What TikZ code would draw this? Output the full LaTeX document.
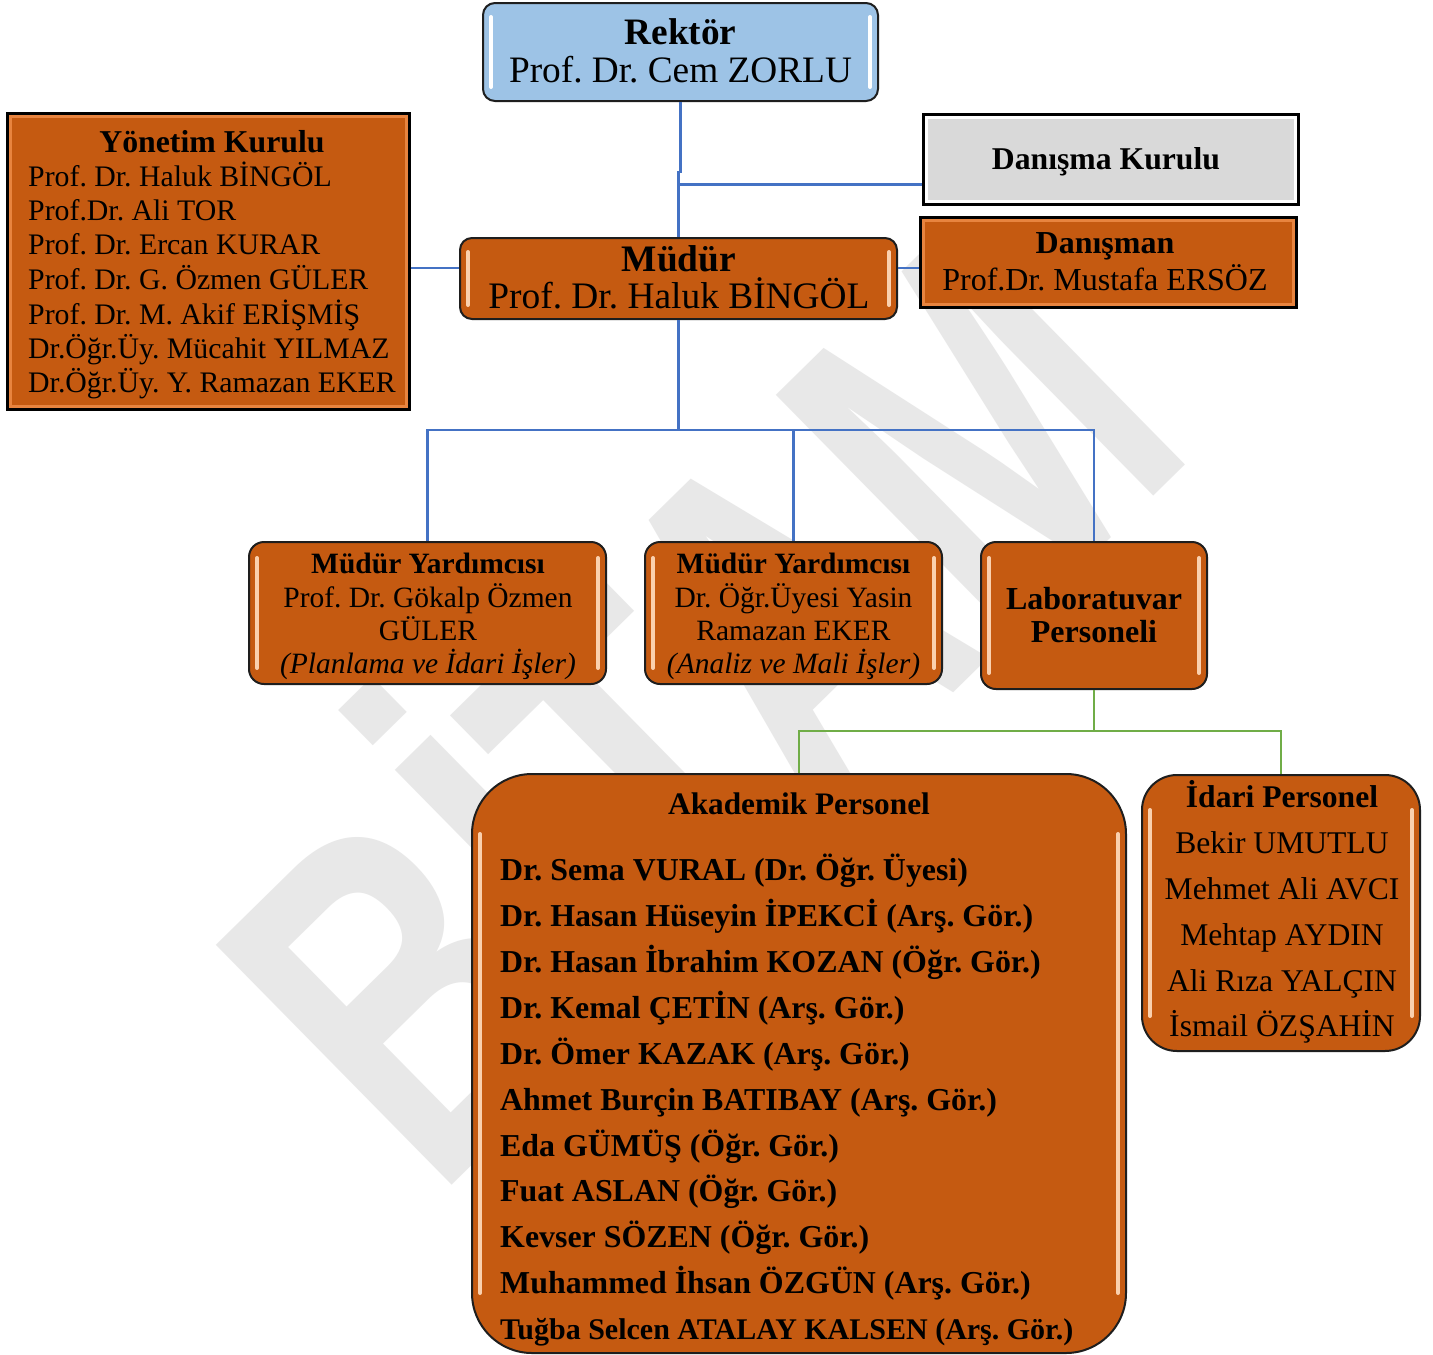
\documentclass[tikz,border=0pt]{standalone}
\usepackage{fontspec}
\setmainfont{Liberation Serif}
\newfontfamily\wmfont{Liberation Sans}
\definecolor{boxorange}{HTML}{C55A11}
\definecolor{boxblue}{HTML}{9DC3E6}
\definecolor{boxgray}{HTML}{D9D9D9}
\definecolor{lineblue}{HTML}{4472C4}
\definecolor{linegreen}{HTML}{70AD47}
\definecolor{wmgray}{HTML}{E8E8E8}
\definecolor{glossorange}{HTML}{FAD0AE}
\definecolor{bevelorange}{HTML}{E8843F}
\definecolor{edgedark}{HTML}{1E1E1E}
\newcommand\setfs[2]{\fontsize{#1}{#2}\selectfont}
\frenchspacing
\begin{document}
\begin{tikzpicture}[x=1pt, y=-1pt,
  roundbox/.style={draw=edgedark, line width=2pt, inner sep=0pt},
  squarebox/.style={draw=black, line width=3pt, inner sep=0pt},
  gloss/.style 2 args={path picture={
    \draw[line width=4pt, line cap=round, #1]
      ([xshift=8pt,yshift=-#2pt]path picture bounding box.north west) --
      ([xshift=8pt,yshift=#2pt]path picture bounding box.south west);
    \draw[line width=4pt, line cap=round, #1]
      ([xshift=-8pt,yshift=-#2pt]path picture bounding box.north east) --
      ([xshift=-8pt,yshift=#2pt]path picture bounding box.south east);}},
  bevel/.style={path picture={\draw[line width=9pt, #1]
      (path picture bounding box.north west) rectangle (path picture bounding box.south east);}},
  txt/.style={inner sep=0pt, text=black},
  blueline/.style={draw=lineblue, line width=2.5pt},
  greenline/.style={draw=linegreen, line width=2.5pt}]
\useasboundingbox (0,0) rectangle (1433,1355);
\fill[white] (0,0) rectangle (1433,1355);

% watermark
\begin{scope}[shift={(435,1202)}]
  \node[cm={0.507,0.498,-0.701,0.713,(0,0)}, transform shape, anchor=base west, inner sep=0pt,
        text=wmgray, font=\wmfont\bfseries\fontsize{489}{489}\selectfont] (wm) at (0,0) {BİTAM};
\end{scope}

% helper levels
\coordinate (yDK) at (0,184.5);
\coordinate (ySide) at (0,268);
\coordinate (yBus) at (0,430);
\coordinate (yGreen) at (0,731);

% boxes (shapes)
\node[roundbox, rounded corners=12pt, fill=boxblue, gloss={white}{14}, minimum width=395pt, minimum height=98pt] (rek) at (680.5,52) {};
\node[squarebox, fill=boxorange, bevel=bevelorange, minimum width=402pt, minimum height=296pt] (yk) at (208,261) {};
\node[squarebox, fill=boxgray, bevel=white, minimum width=375pt, minimum height=90pt] (dk) at (1110.5,159) {};
\node[roundbox, rounded corners=12pt, fill=boxorange, gloss={glossorange}{14}, minimum width=437pt, minimum height=81pt] (mud) at (678.5,278.5) {};
\node[squarebox, fill=boxorange, bevel=bevelorange, minimum width=376pt, minimum height=90pt] (dan) at (1108,262) {};
\node[roundbox, rounded corners=15pt, fill=boxorange, gloss={glossorange}{16}, minimum width=357pt, minimum height=142pt] (my1) at (427.5,613) {};
\node[roundbox, rounded corners=15pt, fill=boxorange, gloss={glossorange}{16}, minimum width=297pt, minimum height=142pt] (my2) at (793.5,613) {};
\node[roundbox, rounded corners=15pt, fill=boxorange, gloss={glossorange}{16}, minimum width=226pt, minimum height=147pt] (lab) at (1094,615.5) {};
\node[roundbox, rounded corners=60pt, fill=boxorange, gloss={glossorange}{60}, minimum width=654pt, minimum height=579pt] (ak) at (799,1063.5) {};
\node[roundbox, rounded corners=35pt, fill=boxorange, gloss={glossorange}{35}, minimum width=278pt, minimum height=276pt] (id) at (1281,913) {};

% connectors
\draw[blueline] (rek.south) -- ++(0,70) -| (mud.north);
\draw[blueline] (mud.north |- yDK) -- (dk.west |- yDK);
\draw[blueline] (yk.east |- ySide) -- (mud.west |- ySide);
\draw[blueline] (mud.east |- ySide) -- (dan.west |- ySide);
\draw[blueline] (mud.south) -- (mud.south |- yBus);
\draw[blueline] (my1.north) -- (my1.north |- yBus) -- (lab.north |- yBus) -- (lab.north);
\draw[blueline] (my2.north) -- (my2.north |- yBus);
\draw[greenline] (lab.south) -- (lab.south |- yGreen);
\draw[greenline] (ak.north) -- (ak.north |- yGreen) -- (id.north |- yGreen) -- (id.north);

% texts
\node[txt, align=center, font=\setfs{37.3}{38}] (rekt) at (680.5,50.6) {\textbf{Rektör}\\Prof. Dr. Cem ZORLU};
\node[txt, anchor=west, font=\setfs{29.8}{34}] (ykt) at (28,265.6) {\begin{tabular}{@{}l@{}}\multicolumn{1}{@{}c@{}}{\setfs{31.8}{34}\bfseries Yönetim Kurulu}\\
Prof. Dr. Haluk BİNGÖL\\
Prof.Dr. Ali TOR\\
Prof. Dr. Ercan KURAR\\
Prof. Dr. G. Özmen GÜLER\\
Prof. Dr. M. Akif ERİŞMİŞ\\
Dr.Öğr.Üy. Mücahit YILMAZ\\
Dr.Öğr.Üy. Y. Ramazan EKER\end{tabular}};
\node[txt, font=\setfs{31.7}{36}\bfseries] (dkt) at (1106,162) {Danışma Kurulu};
\node[txt, align=center, font=\setfs{37.4}{37}] (mudt) at (679,277) {\textbf{Müdür}\\Prof. Dr. Haluk BİNGÖL};
\node[txt, align=center, font=\setfs{32}{37}] (dant) at (1105,262.2) {\textbf{Danışman}\\Prof.Dr. Mustafa ERSÖZ};
\node[txt, align=center, font=\setfs{29.5}{33.3}] (my1t) at (428,616.8) {\textbf{Müdür Yardımcısı}\\Prof. Dr. Gökalp Özmen\\GÜLER\\\textit{(Planlama ve İdari İşler)}};
\node[txt, align=center, font=\setfs{29.5}{33.3}] (my2t) at (793.5,616.8) {\textbf{Müdür Yardımcısı}\\Dr. Öğr.Üyesi Yasin\\Ramazan EKER\\\textit{(Analiz ve Mali İşler)}};
\node[txt, align=center, font=\setfs{32}{33}\bfseries] (labt) at (1094,615.3) {Laboratuvar\\Personeli};
\node[txt, font=\setfs{31.3}{36}\bfseries] (akh) at (799,803.8) {Akademik Personel};
\node[txt, align=left, anchor=west, font=\setfs{31.9}{45.9}\bfseries] (akl) at (500,1100.2) {Dr. Sema VURAL (Dr. Öğr. Üyesi)\\
Dr. Hasan Hüseyin İPEKCİ (Arş. Gör.)\\
Dr. Hasan İbrahim KOZAN (Öğr. Gör.)\\
Dr. Kemal ÇETİN (Arş. Gör.)\\
Dr. Ömer KAZAK (Arş. Gör.)\\
Ahmet Burçin BATIBAY (Arş. Gör.)\\
Eda GÜMÜŞ (Öğr. Gör.)\\
Fuat ASLAN (Öğr. Gör.)\\
Kevser SÖZEN (Öğr. Gör.)\\
Muhammed İhsan ÖZGÜN (Arş. Gör.)\\
{\setfs{30}{45.9}Tuğba Selcen ATALAY KALSEN (Arş. Gör.)}};
\node[txt, align=center, font=\setfs{31.6}{45.8}] (idt) at (1282,912.3) {\textbf{İdari Personel}\\Bekir UMUTLU\\Mehmet Ali AVCI\\Mehtap AYDIN\\Ali Rıza YALÇIN\\İsmail ÖZŞAHİN};
\end{tikzpicture}
\end{document}
